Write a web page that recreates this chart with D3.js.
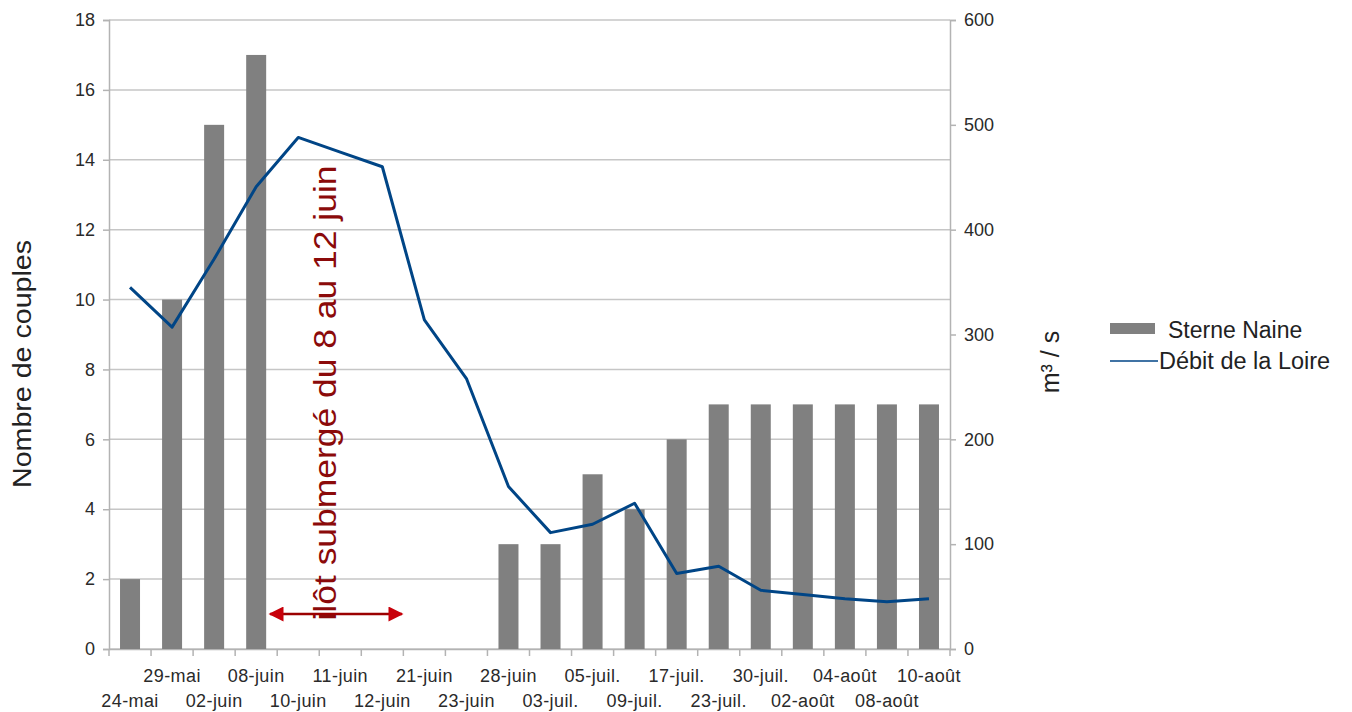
<!DOCTYPE html>
<html>
<head>
<meta charset="utf-8">
<script src="https://cdn.jsdelivr.net/npm/d3@7"></script>
<style>
  html, body { margin: 0; padding: 0; background: #fff; }
  svg { display: block; font-family: "Liberation Sans", Arial, sans-serif; }
</style>
</head>
<body>
<svg id="chart" width="1352" height="712"></svg>
<script>
// Dates of the counts
const categories = ["24-mai", "29-mai", "02-juin", "08-juin", "10-juin", "11-juin", "12-juin",
  "21-juin", "23-juin", "28-juin", "03-juil.", "05-juil.", "09-juil.", "17-juil.", "23-juil.",
  "30-juil.", "02-août", "04-août", "08-août", "10-août"];
// Number of nesting pairs (left axis)
const couples = [2, 10, 15, 17, 0, 0, 0, 0, 0, 3, 3, 5, 4, 6, 7, 7, 7, 7, 7, 7];
// Loire discharge in m³/s (right axis)
const debit = [345, 307, 372, 441, 488, 474, 460, 314, 258, 155, 111, 119, 139, 72, 79, 56, 52, 48, 45, 48];
const leftTicks = [0, 2, 4, 6, 8, 10, 12, 14, 16, 18];
const rightTicks = [0, 100, 200, 300, 400, 500, 600];
const seriesNames = ["Sterne Naine", "Débit de la Loire"];

const svg = d3.select("#chart");
const m = { left: 109, right: 950, top: 20, bottom: 649 };

const x = d3.scaleBand().domain(categories).range([m.left, m.right]).paddingInner(0).paddingOuter(0);
const yL = d3.scaleLinear().domain([0, 18]).range([m.bottom, m.top]);
const yR = d3.scaleLinear().domain([0, 600]).range([m.bottom, m.top]);

const gridColor = "#c6c6c6";
const axisColor = "#b3b3b3";
const textColor = "#2a2a2a";

// Horizontal grid lines
svg.append("g").selectAll("line").data(leftTicks).join("line")
  .attr("x1", m.left).attr("x2", m.right)
  .attr("y1", d => yL(d)).attr("y2", d => yL(d))
  .attr("stroke", gridColor).attr("stroke-width", 1.5);

// Left axis
const gL = svg.append("g").attr("transform", `translate(${m.left},0)`)
  .call(d3.axisLeft(yL).tickValues(leftTicks).tickSize(6).tickPadding(8));
// Right axis
const gR = svg.append("g").attr("transform", `translate(${m.right},0)`)
  .call(d3.axisRight(yR).tickValues(rightTicks).tickSize(6).tickPadding(8));
// Bottom axis: ticks on category boundaries
const gB = svg.append("g").attr("transform", `translate(0,${m.bottom})`)
  .call(d3.axisBottom(x).tickSize(0).tickFormat(""));
gB.selectAll(".tick").remove();
const bounds = categories.map(c => x(c)).concat([m.right]);
gB.selectAll("line.bnd").data(bounds).join("line").attr("class", "bnd")
  .attr("x1", d => d).attr("x2", d => d).attr("y1", 0).attr("y2", 7)
  .attr("stroke", axisColor).attr("stroke-width", 1.5);

[gL, gR, gB].forEach(g => {
  g.select(".domain").attr("stroke", axisColor).attr("stroke-width", 1.5);
  g.selectAll(".tick line").attr("stroke", axisColor).attr("stroke-width", 1.5);
  g.selectAll(".tick text").attr("fill", textColor).attr("font-size", 18)
    .attr("font-family", "Liberation Sans, Arial, sans-serif");
});

// Staggered category labels
svg.append("g").selectAll("text").data(categories).join("text")
  .attr("x", d => x(d) + x.bandwidth() / 2)
  .attr("y", (d, i) => i % 2 === 0 ? 707 : 682)
  .attr("text-anchor", "middle")
  .attr("font-size", 18).attr("letter-spacing", 0.4).attr("fill", textColor)
  .text(d => d);

// Bars
const barW = 20;
svg.append("g").selectAll("rect").data(couples.map((v, i) => ({ c: categories[i], v })).filter(d => d.v > 0))
  .join("rect")
  .attr("x", d => x(d.c) + x.bandwidth() / 2 - barW / 2)
  .attr("width", barW)
  .attr("y", d => yL(d.v))
  .attr("height", d => yL(0) - yL(d.v))
  .attr("fill", "#808080");

// Discharge line
const line = d3.line()
  .x((d, i) => x(categories[i]) + x.bandwidth() / 2)
  .y(d => yR(d));
svg.append("path").datum(debit)
  .attr("d", line)
  .attr("fill", "none")
  .attr("stroke", "#004586")
  .attr("stroke-width", 3)
  .attr("stroke-linejoin", "round");

// Annotation: flooding period
const defs = svg.append("defs");
defs.append("marker").attr("id", "arrowEnd")
  .attr("viewBox", "0 0 10 10").attr("refX", 9).attr("refY", 5)
  .attr("markerWidth", 7).attr("markerHeight", 6).attr("markerUnits", "strokeWidth")
  .attr("orient", "auto-start-reverse")
  .append("path").attr("d", "M0,0 L10,5 L0,10 z").attr("fill", "#c8000a");
svg.append("line")
  .attr("x1", 270).attr("x2", 402).attr("y1", 614).attr("y2", 614)
  .attr("stroke", "#9b0000").attr("stroke-width", 2.5)
  .attr("marker-start", "url(#arrowEnd)").attr("marker-end", "url(#arrowEnd)");
svg.append("text")
  .attr("transform", "translate(336,393) rotate(-90)")
  .attr("text-anchor", "middle")
  .attr("font-size", 32).attr("fill", "#8b0a0a")
  .attr("textLength", 455).attr("lengthAdjust", "spacingAndGlyphs")
  .text("ilôt submergé du 8 au 12 juin");

// Axis titles
svg.append("text").attr("transform", "translate(22,364) rotate(-90)")
  .attr("text-anchor", "middle").attr("dominant-baseline", "central")
  .attr("font-size", 26).attr("fill", "#222")
  .attr("textLength", 248).attr("lengthAdjust", "spacingAndGlyphs")
  .text("Nombre de couples");
svg.append("text").attr("transform", "translate(1050,362) rotate(-90)")
  .attr("text-anchor", "middle").attr("dominant-baseline", "central")
  .attr("font-size", 25).attr("fill", "#222").text("m³ / s");

// Legend
const lg = svg.append("g");
lg.append("rect").attr("x", 1110).attr("y", 323).attr("width", 45).attr("height", 11).attr("fill", "#808080");
lg.append("text").attr("x", 1168).attr("y", 330).attr("dominant-baseline", "central")
  .attr("font-size", 23).attr("fill", "#222").text(seriesNames[0]);
lg.append("line").attr("x1", 1110).attr("x2", 1158).attr("y1", 361).attr("y2", 361)
  .attr("stroke", "#004586").attr("stroke-width", 1.5);
lg.append("text").attr("x", 1159).attr("y", 361).attr("dominant-baseline", "central")
  .attr("font-size", 23.5).attr("fill", "#222").text(seriesNames[1]);
</script>
</body>
</html>
